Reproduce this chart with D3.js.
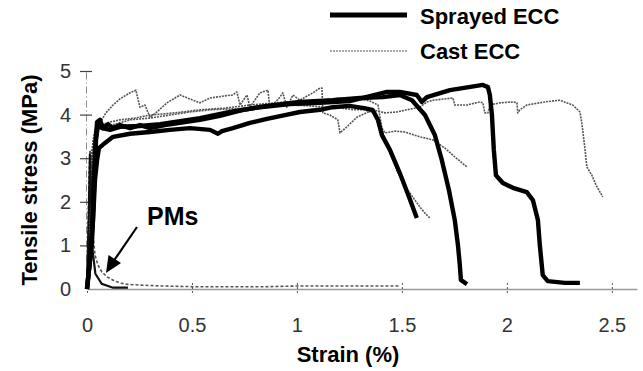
<!DOCTYPE html>
<html><head><meta charset="utf-8">
<script src="https://cdn.jsdelivr.net/npm/d3@7/dist/d3.min.js"></script>
<style>body{margin:0;background:#fff}svg{display:block}</style>
</head><body><svg id="c" width="643" height="371"></svg>
<script>
// ---- data (strain %, stress MPa) ----
const xTicks = [0, 0.5, 1, 1.5, 2, 2.5];
const xTickLabels = ["0", "0.5", "1", "1.5", "2", "2.5"];
const yTicks = [0, 1, 2, 3, 4, 5];
const legendLabels = ["Sprayed ECC", "Cast ECC"];

const sprayed1 = [[0,0],[.014,.67],[.029,1.58],[.038,2.5],[.048,2.96],[.057,3.23],[.086,3.35],[.124,3.49],[.205,3.56],[.30,3.60],[.395,3.65],[.49,3.69],[.586,3.65],[.624,3.56],[.643,3.62],[.695,3.69],[.776,3.81],[.857,3.90],[.943,3.99],[1.014,4.06],[1.11,4.11],[1.17,4.17],[1.25,4.20],[1.32,4.15],[1.36,4.11],[1.386,3.88],[1.405,3.53],[1.443,3.19],[1.49,2.66],[1.53,2.16],[1.571,1.63]];
const sprayed2 = [[0,0],[.019,.89],[.029,2.04],[.038,3.19],[.048,3.83],[.062,3.88],[.076,3.69],[.10,3.78],[.124,3.69],[.157,3.76],[.205,3.69],[.252,3.76],[.30,3.69],[.371,3.76],[.443,3.81],[.538,3.88],[.633,3.97],[.743,4.11],[.857,4.20],[1.014,4.29],[1.171,4.33],[1.30,4.38],[1.41,4.40],[1.49,4.45],[1.548,4.33],[1.61,3.99],[1.657,3.53],[1.69,2.96],[1.724,2.27],[1.752,1.58],[1.767,1.01],[1.776,0.55],[1.781,0.21],[1.81,0.11]];
const sprayed3 = [[0,0],[.024,1.12],[.033,2.27],[.043,3.42],[.052,3.76],[.071,3.69],[.11,3.65],[.157,3.72],[.252,3.74],[.348,3.78],[.443,3.85],[.538,3.92],[.681,4.06],[.824,4.17],[.967,4.24],[1.11,4.27],[1.252,4.31],[1.429,4.52],[1.49,4.52],[1.571,4.45],[1.595,4.29],[1.619,4.40],[1.729,4.56],[1.886,4.68],[1.91,4.63],[1.919,4.45],[1.929,3.99],[1.938,3.19],[1.948,2.61],[1.981,2.43],[2.029,2.32],[2.095,2.22],[2.124,2.04],[2.148,1.58],[2.157,1.01],[2.171,.32],[2.195,.18],[2.276,.14],[2.348,.14]];
const sprayedPM = [[0,0],[.008,1.6],[.014,3.1],[.02,2.0],[.026,.9],[.04,.35],[.07,.12],[.124,.03],[.195,.03]];

const castA = [[0,0],[.005,1.12],[.014,2.5],[.024,3.19],[.038,3.65],[.062,3.81],[.09,4.04],[.124,4.22],[.157,4.36],[.205,4.5],[.233,4.56],[.252,4.17],[.276,4.22],[.30,3.94],[.333,4.06],[.381,4.27],[.443,4.45],[.505,4.33],[.538,4.27],[.586,4.38],[.657,4.43],[.695,4.45],[.714,4.52],[.729,4.22],[.762,4.45],[.776,4.17],[.824,4.5],[.862,4.56],[.871,4.15],[.919,4.4],[.933,4.5],[.952,4.17],[.981,4.45],[1.014,4.33],[1.076,4.5],[1.11,4.61],[1.119,4.61],[1.124,4.04],[1.157,3.99],[1.195,3.88],[1.205,3.58],[1.238,3.72],[1.286,3.94],[1.362,4.11],[1.419,4.04],[1.476,4.06],[1.524,4.11],[1.586,4.17],[1.619,4.29],[1.648,4.33],[1.743,4.38],[1.752,4.22],[1.81,4.22],[1.871,4.29],[1.886,4.27],[1.895,4.04],[1.91,4.04],[1.919,4.22],[1.967,4.27],[2.029,4.29],[2.048,4.27],[2.052,4.04],[2.062,4.11],[2.095,4.22],[2.181,4.29],[2.252,4.33],[2.314,4.22],[2.348,4.06],[2.357,3.81],[2.371,3.26],[2.381,2.8],[2.405,2.61],[2.424,2.39],[2.457,2.11]];
const castB = [[0,0],[.01,1.58],[.019,2.73],[.029,3.42],[.043,3.69],[.062,3.76],[.11,3.83],[.157,3.88],[.229,3.92],[.30,3.99],[.419,4.04],[.538,4.11],[.657,4.15],[.776,4.22],[.895,4.27],[1.014,4.31],[1.11,4.33],[1.205,4.38],[1.30,4.36],[1.348,4.31],[1.386,4.22],[1.405,3.69],[1.419,3.58],[1.467,3.62],[1.514,3.6],[1.586,3.49],[1.648,3.42],[1.705,3.23],[1.752,3.03],[1.81,2.8]];
const castC = [[0,0],[.014,2.04],[.024,2.96],[.038,3.53],[.052,3.76],[.086,3.72],[.133,3.78],[.205,3.88],[.30,3.92],[.395,3.99],[.49,4.06],[.586,4.11],[.681,4.13],[.776,4.15],[.871,4.2],[.967,4.22],[1.062,4.2],[1.133,4.17],[1.205,4.15],[1.276,4.11],[1.324,4.11],[1.362,4.04],[1.395,3.76],[1.429,3.3],[1.476,2.73],[1.514,2.34],[1.538,2.2],[1.586,1.88],[1.61,1.74],[1.633,1.63]];
const castPM = [[0,0],[.005,1.35],[.01,2.61],[.014,3.19],[.019,3.07],[.024,2.04],[.029,1.24],[.038,.78],[.052,.55],[.071,.39],[.095,.28],[.133,.18],[.181,.11],[.252,.09],[.348,.07],[.538,.05],[.824,.05],[1.014,.07],[1.205,.07],[1.49,.07]];

const sprayedSeries = [sprayed1, sprayed2, sprayed3];
const castSeries = [castA, castB, castC];

// ---- drawing ----
const svg = d3.select("#c");
const x = d3.scaleLinear().domain([0, 2.62]).range([87, 637]);
const y = d3.scaleLinear().domain([0, 5]).range([289, 71]);
const line = d3.line().x(d => x(d[0])).y(d => y(d[1]));
const FONT = "Liberation Sans, Arial, sans-serif";

// x axis
const xa = svg.append("g").attr("transform", `translate(0,${y(0)})`)
  .call(d3.axisBottom(x).tickValues(xTicks).tickSize(0).tickFormat((d,i) => xTickLabels[i]));
xa.select(".domain").attr("stroke", "#999").attr("stroke-width", 1.3);
xa.selectAll(".tick text").attr("font-family", FONT)
  .attr("font-size", 20).attr("fill", "#333").attr("dy", 0).attr("y", 43);
xa.selectAll(".tick").append("line").attr("y1", -6).attr("y2", 5)
  .attr("stroke", "#555").attr("stroke-width", 1).attr("stroke-dasharray", "2,2");

// y axis
const ya = svg.append("g").attr("transform", `translate(${x(0) - 1},0)`)
  .call(d3.axisLeft(y).tickValues(yTicks).tickSize(0).tickFormat(d3.format("d")));
ya.select(".domain").attr("stroke", "#888").attr("stroke-width", 1).attr("stroke-dasharray", "7,3,1,3");
ya.selectAll(".tick text").attr("font-family", FONT)
  .attr("font-size", 20).attr("fill", "#333").attr("x", -15);
ya.selectAll(".tick").filter(d => d > 0).append("line").attr("x1", -6).attr("x2", 6)
  .attr("stroke", "#444").attr("stroke-width", 1.2);

// cast curves
const castStyle = s => s.attr("fill", "none").attr("stroke", "#555").attr("stroke-width", 1.6)
  .attr("stroke-dasharray", "2,1").attr("stroke-linejoin", "round");
svg.append("path").datum(castPM).attr("d", line).call(castStyle).attr("stroke-dasharray", "3,2");
castSeries.forEach(s => svg.append("path").datum(s).attr("d", line).call(castStyle));

// sprayed curves
svg.append("path").datum(sprayedPM).attr("d", line).attr("fill", "none").attr("stroke", "#111").attr("stroke-width", 2.2);
sprayedSeries.forEach(s => svg.append("path").datum(s).attr("d", line)
  .attr("fill", "none").attr("stroke", "#000").attr("stroke-width", 4.4).attr("stroke-linejoin", "round"));

// axis titles
svg.append("text").attr("transform", "translate(37,180) rotate(-90)").attr("text-anchor", "middle")
  .attr("font-family", FONT).attr("font-weight", "bold").attr("font-size", 22)
  .text("Tensile stress (MPa)");
svg.append("text").attr("x", 348).attr("y", 362).attr("text-anchor", "middle")
  .attr("font-family", FONT).attr("font-weight", "bold").attr("font-size", 22)
  .text("Strain (%)");

// legend
svg.append("line").attr("x1", 330).attr("x2", 407).attr("y1", 15).attr("y2", 15).attr("stroke", "#000").attr("stroke-width", 5);
svg.append("line").attr("x1", 330).attr("x2", 407).attr("y1", 51).attr("y2", 51).call(castStyle).attr("stroke-width", 1.2);
svg.append("text").attr("x", 420).attr("y", 24).attr("font-family", FONT)
  .attr("font-weight", "bold").attr("font-size", 22).text(legendLabels[0]);
svg.append("text").attr("x", 420).attr("y", 59).attr("font-family", FONT)
  .attr("font-weight", "bold").attr("font-size", 22).text(legendLabels[1]);

// PMs annotation
svg.append("text").attr("x", 147).attr("y", 225).attr("font-family", FONT)
  .attr("font-weight", "bold").attr("font-size", 25).text("PMs");
svg.append("line").attr("x1", 137).attr("y1", 227).attr("x2", 113).attr("y2", 262).attr("stroke", "#000").attr("stroke-width", 2.2);
svg.append("path").attr("d", "M106,273 L108.5,255 L121,263 Z").attr("fill", "#000");
</script></body></html>
